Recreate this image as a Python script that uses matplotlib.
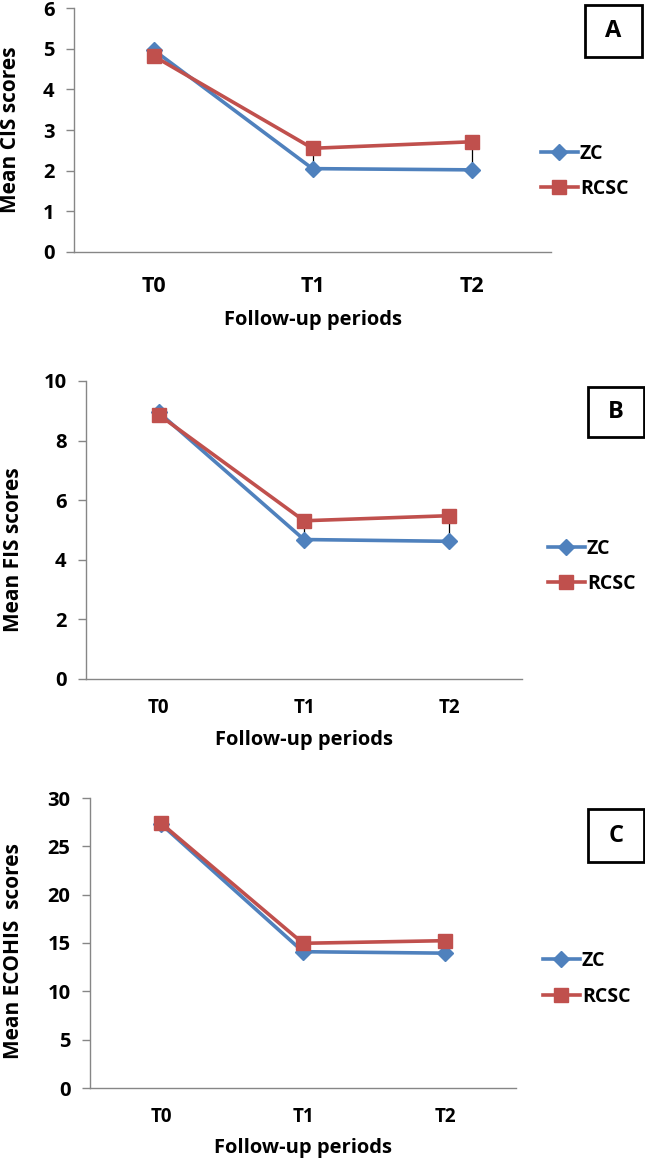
import matplotlib
matplotlib.use("Agg")
import matplotlib.pyplot as plt
from matplotlib.patches import Rectangle

periods = ["T0", "T1", "T2"]
series_names = ["ZC", "RCSC"]

cis_zc = [4.97, 2.05, 2.02]
cis_rcsc = [4.82, 2.55, 2.71]
fis_zc = [8.95, 4.68, 4.62]
fis_rcsc = [8.87, 5.31, 5.48]
ecohis_zc = [27.3, 14.1, 13.95]
ecohis_rcsc = [27.4, 14.97, 15.24]

ylabels = ["Mean CIS scores", "Mean FIS scores", "Mean ECOHIS  scores"]
panel_letters = ["A", "B", "C"]
y_tops = [6, 10, 30]
y_steps = [1, 2, 5]

W, H = 645, 1161
BLUE = "#4F81BD"
RED = "#C0504D"
AXCOL = "#868686"

plt.rcParams['font.family'] = ['Open Sans', 'DejaVu Sans']
plt.rcParams['font.weight'] = 'bold'

fig = plt.figure(figsize=(W / 100, H / 100), dpi=100)


def fx(x):
    return x / W


def fy(y):
    return 1 - y / H


# pixel layout of each panel: axes box, label positions, legend, letter box
layout = [
    dict(ax=(74, 551, 8, 252), xt=15.5, xpad=17, yt=14.5, ylab=(11, 130),
         xlab=320, leg=(541, 154, 189), box=(585, 5, 57, 52)),
    dict(ax=(86, 522, 381, 679), xt=13.5, xpad=14, yt=14.5, ylab=(14, 550),
         xlab=740, leg=(548, 549, 584), box=(588, 387, 56, 50)),
    dict(ax=(90, 516, 798, 1088), xt=13.5, xpad=14, yt=14.5, ylab=(14, 951),
         xlab=1148, leg=(543, 961, 997), box=(588, 809, 56, 53)),
]

data = [(cis_zc, cis_rcsc), (fis_zc, fis_rcsc), (ecohis_zc, ecohis_rcsc)]

for i, lay in enumerate(layout):
    l, r, t, b = lay["ax"]
    ax = fig.add_axes([fx(l), fy(b), fx(r - l), (b - t) / H])
    zc, rcsc = data[i]
    x = list(range(len(periods)))

    # high-low lines between the two series
    ax.vlines(x, zc, rcsc, color="black", lw=0.9, zorder=2)
    l1, = ax.plot(x, zc, color=BLUE, lw=2.6, marker="D", ms=8, zorder=3)
    l2, = ax.plot(x, rcsc, color=RED, lw=2.6, marker="s", ms=9.5, zorder=4)

    ax.set_xlim(-0.5, 2.5)
    ax.set_ylim(0, y_tops[i])
    ax.set_yticks(range(0, y_tops[i] + 1, y_steps[i]))
    ax.set_xticks(x)
    ax.set_xticklabels(periods)
    for s in ["top", "right"]:
        ax.spines[s].set_visible(False)
    for s in ["left", "bottom"]:
        ax.spines[s].set_color(AXCOL)
        ax.spines[s].set_linewidth(1.0)
    ax.tick_params(axis="y", length=6, width=1.0, color=AXCOL, pad=8,
                   labelsize=lay["yt"])
    ax.tick_params(axis="x", length=0, pad=lay["xpad"], labelsize=lay["xt"])
    ax.patch.set_alpha(0)

    fig.text(fx(lay["ylab"][0]), fy(lay["ylab"][1]), ylabels[i], rotation=90,
             ha="center", va="center", fontsize=15, fontweight="bold")
    fig.text(fx((l + r) / 2), fy(lay["xlab"]), "Follow-up periods",
             ha="center", va="center", fontsize=14.5, fontweight="bold")

    lx, ly1, ly2 = lay["leg"]
    fig.legend([l1, l2], series_names, loc="center left",
               bbox_to_anchor=(fx(lx), fy((ly1 + ly2) / 2)),
               frameon=False, fontsize=14, handlelength=1.9,
               handletextpad=0.1, labelspacing=0.8, borderpad=0,
               borderaxespad=0)

    bx, by, bw, bh = lay["box"]
    fig.patches.append(Rectangle((fx(bx), fy(by + bh)), fx(bw), bh / H,
                                 transform=fig.transFigure, fill=False,
                                 edgecolor="black", lw=2.0))
    fig.text(fx(bx + bw / 2), fy(by + bh / 2), panel_letters[i],
             ha="center", va="center", fontsize=17, fontweight="bold")

fig.savefig("out.png", dpi=100)
